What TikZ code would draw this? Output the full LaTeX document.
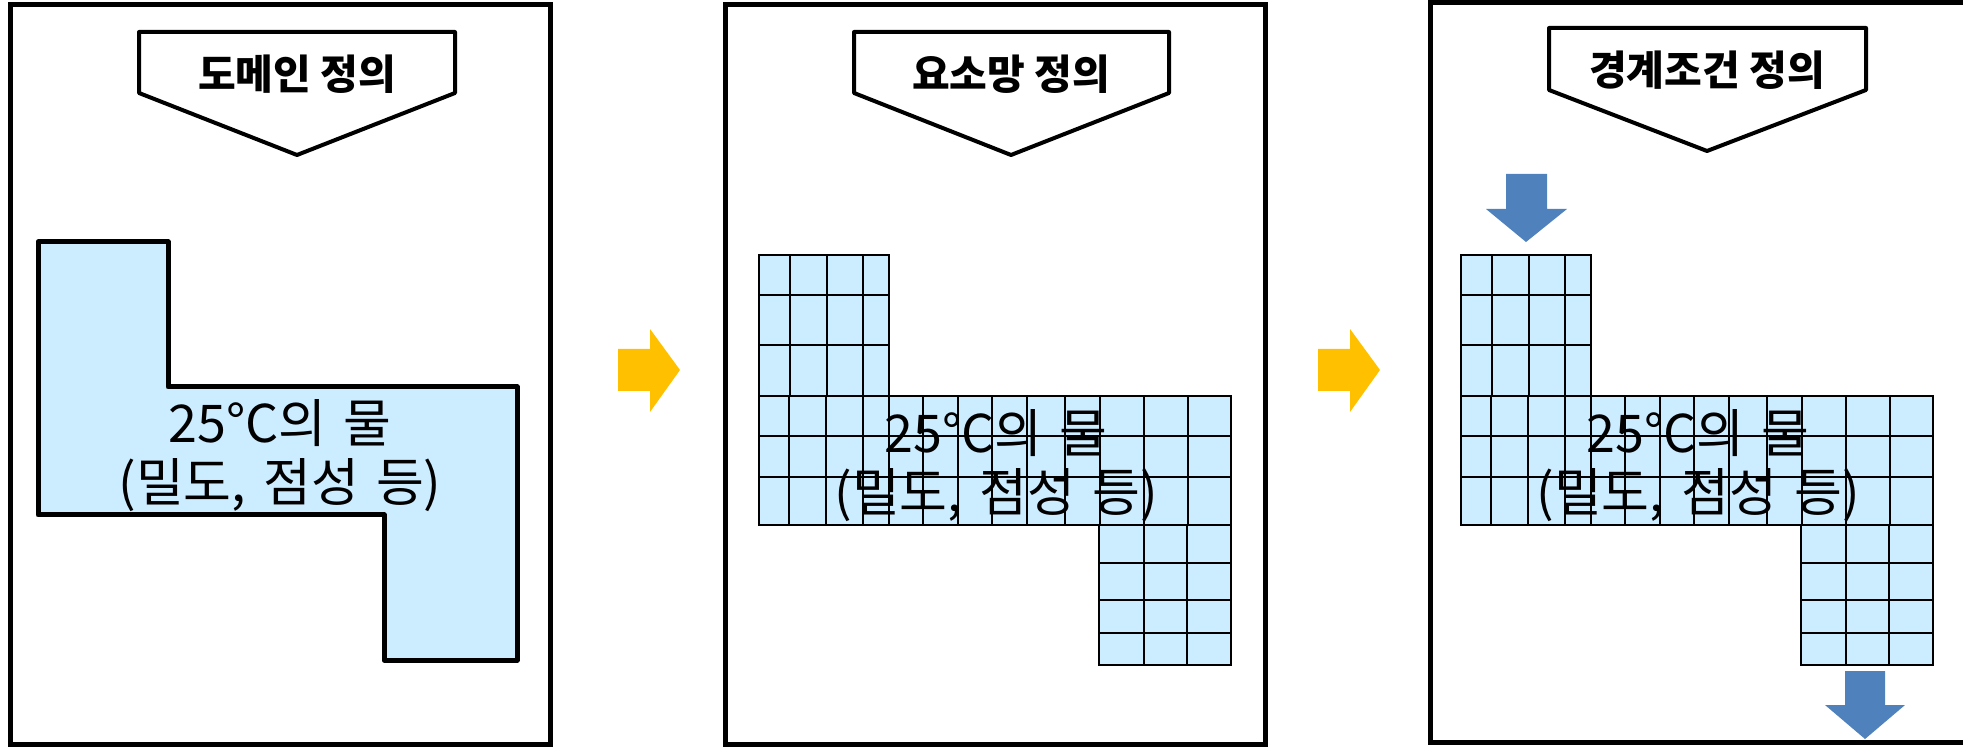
\documentclass[tikz,border=0pt]{standalone}
\usepackage{fontspec}
\setmainfont{Noto Sans CJK KR}
\usepackage{tikz}
\definecolor{mywater}{RGB}{204,236,255}
\definecolor{myyellow}{RGB}{255,192,0}
\definecolor{myblue}{RGB}{79,129,189}
\newcommand{\widewords}{\spaceskip 0.33em\relax}
\tikzset{
  panel/.style={draw=black, line width=2.5pt, fill=white},
  titlebox/.style={draw=black, fill=white, line width=2pt, line join=round},
  titletext/.style={font=\fontsize{20.5}{24}\selectfont\bfseries, inner sep=0pt},
  waterbody/.style={draw=black, fill=mywater, line width=2.5pt, line join=round},
  meshline/.style={draw=black, line width=0.8pt},
  meshedge/.style={draw=black, line width=1.4pt},
  waterlabel/.style={font=\fontsize{26}{29.5}\selectfont\widewords,
    align=center, inner sep=0pt},
  flowarrow/.style={fill=myyellow},
  bcarrow/.style={fill=myblue}
}

\begin{document}
\begin{tikzpicture}[x=0.5pt, y=-0.5pt]
  \useasboundingbox (0,0) rectangle (1963,747);
  \clip (0,0) rectangle (1963,747);

  \draw [panel] (10,5) rectangle (550,744);
  \draw [panel] (725,5) rectangle (1265,744);
  \draw [panel] (1430,3) rectangle (1975,742);

  \draw [titlebox] (139,32) -- (455,32) -- (455,93) -- (297,155) -- (139,93) -- cycle;
  \draw [titlebox] (854,32) -- (1169,32) -- (1169,93) -- (1011,155) -- (854,93) -- cycle;
  \draw [titlebox] (1549,28) -- (1866,28) -- (1866,90) -- (1707,151) -- (1549,90) -- cycle;
  \node [titletext] (t1) at (297,74) {도메인 정의};
  \node [titletext] (t2) at (1011,74) {요소망 정의};
  \node [titletext] (t3) at (1707,70) {경계조건 정의};

  \draw [waterbody] (38,242) -- (168,242) -- (168,387) -- (517,387) -- (517,660)
    -- (384,660) -- (384,515) -- (38,515) -- cycle;
  \node [waterlabel] (w1) at (280,456) {25°C의 물\\(밀도, 점성 등)};

  \foreach \dx/\k in {0/2, 702/3} {
    \begin{scope}[shift={(\dx,0)}]
      \fill [mywater] (759,255) -- (889,255) -- (889,396) -- (1231,396) -- (1231,665)
        -- (1099,665) -- (1099,525) -- (759,525) -- cycle;
      \foreach \x in {790,827,863}
        \draw [meshline] (\x,255) -- (\x,396);
      \foreach \y in {295,345}
        \draw [meshline] (759,\y) -- (889,\y);
      \foreach \x in {789,826,863,889,923,958,992,1027,1065,1100,1144,1188}
        \draw [meshline] (\x,396) -- (\x,525);
      \foreach \y in {396,436,477,525}
        \draw [meshline] (759,\y) -- (1231,\y);
      \foreach \x in {1144,1187}
        \draw [meshline] (\x,525) -- (\x,665);
      \foreach \y in {563,600,633}
        \draw [meshline] (1099,\y) -- (1231,\y);
      \draw [meshedge] (759,255) -- (889,255) -- (889,396) -- (1231,396) -- (1231,665)
        -- (1099,665) -- (1099,525) -- (759,525) -- cycle;
      \node [waterlabel] (w\k) at (996,466) {25°C의 물\\(밀도, 점성 등)};
    \end{scope}
  }

  \foreach \dx in {0,700}
    \fill [flowarrow, shift={(\dx,0)}] (618,349) -- (650,349) -- (650,329) -- (680,370)
      -- (650,412) -- (650,391) -- (618,391) -- cycle;

  \fill [bcarrow] (1506,174) -- (1547,174) -- (1547,209) -- (1567,209) -- (1526,242)
    -- (1486,209) -- (1506,209) -- cycle;
  \fill [bcarrow] (1845,671) -- (1885,671) -- (1885,705) -- (1905,705) -- (1865,739)
    -- (1825,705) -- (1845,705) -- cycle;
\end{tikzpicture}
\end{document}
